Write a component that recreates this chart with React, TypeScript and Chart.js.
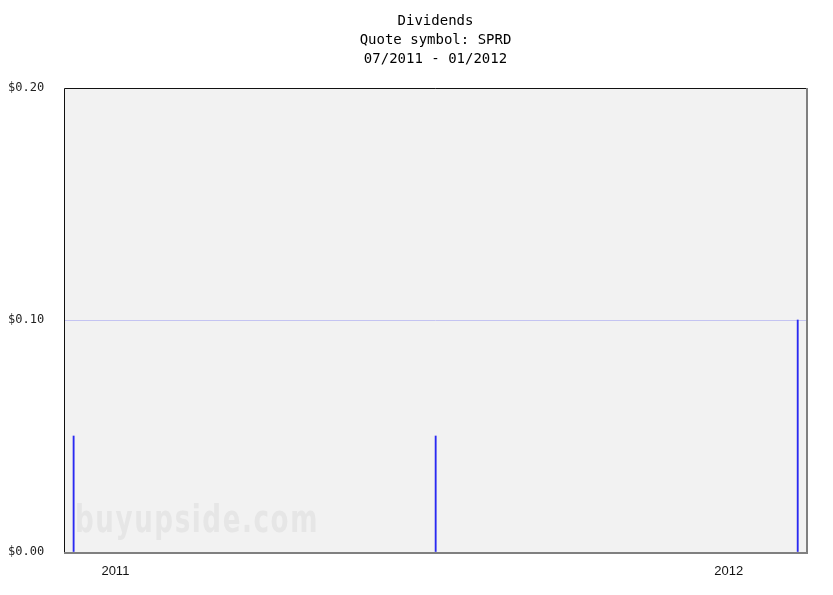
import React, { useEffect, useRef } from "react";
import { Chart, registerables } from "chart.js";

Chart.register(...registerables);

const titleLines = ["Dividends", "Quote symbol: SPRD", "07/2011 - 01/2012"];
const dividendDates = ["2011-07-21", "2011-10-20", "2012-01-19"];
const dividendValues = [0.05, 0.05, 0.1];
const axisStart = "2011-07-18T14:00:00Z";
const axisEnd = "2012-01-21T08:00:00Z";
const yearTickDates = ["2011-07-31T12:00:00Z", "2012-01-01T16:00:00Z"];
const yearTickLabels = ["2011", "2012"];
const yTickValues = [0, 0.1, 0.2];
const watermark = "buyupside.com";

const DAY = 86400000;
const toDay = (s: string) => Date.parse(s.length === 10 ? s + "T00:00:00Z" : s) / DAY;

const framePlugin = {
  id: "frame",
  beforeDraw(chart: Chart) {
    const { ctx, chartArea: a } = chart;
    ctx.save();
    ctx.fillStyle = "#f2f2f2";
    ctx.fillRect(a.left, a.top, a.right - a.left, a.bottom - a.top);
    ctx.restore();
  },
  beforeDatasetsDraw(chart: Chart) {
    const { ctx, chartArea: a } = chart;
    ctx.save();
    ctx.font = "bold 37px 'DejaVu Sans Condensed', 'Liberation Sans', sans-serif";
    (ctx as any).letterSpacing = "2px";
    ctx.fillStyle = "#e6e6e6";
    ctx.textBaseline = "alphabetic";
    // squeeze the watermark so it spans the same width as in the original
    const w = ctx.measureText(watermark).width;
    ctx.translate(a.left + 11, a.bottom - 20);
    ctx.scale(244 / w, 1);
    ctx.fillText(watermark, 0, 0);
    ctx.restore();
  },
  afterDraw(chart: Chart) {
    const { ctx, chartArea: a } = chart;
    ctx.save();
    ctx.strokeStyle = "#111111";
    ctx.lineWidth = 1;
    ctx.beginPath();
    ctx.moveTo(a.left + 0.5, a.bottom);
    ctx.lineTo(a.left + 0.5, a.top + 0.5);
    ctx.lineTo(a.right, a.top + 0.5);
    ctx.stroke();
    ctx.strokeStyle = "#808080";
    ctx.lineWidth = 2;
    ctx.beginPath();
    ctx.moveTo(a.right, a.top);
    ctx.lineTo(a.right, a.bottom + 1);
    ctx.lineTo(a.left, a.bottom + 1);
    ctx.stroke();
    ctx.restore();
  },
};

export default function App() {
  const canvasRef = useRef<HTMLCanvasElement>(null);

  useEffect(() => {
    document.body.style.margin = "0";
    if (!canvasRef.current) return;

    const chart = new Chart(canvasRef.current, {
      type: "bar",
      data: {
        datasets: [
          {
            label: "Dividend",
            data: dividendDates.map((d, i) => ({ x: toDay(d), y: dividendValues[i] })),
            backgroundColor: "#2a2af2",
            borderWidth: 0,
            barThickness: 1.2,
          },
        ],
      },
      options: {
        responsive: false,
        animation: false,
        layout: { padding: { left: 8, right: 26, top: 0, bottom: 0 } },
        scales: {
          x: {
            type: "linear",
            offset: false,
            min: toDay(axisStart),
            max: toDay(axisEnd),
            afterBuildTicks: (scale) => {
              scale.ticks = yearTickDates.map((d) => ({ value: toDay(d) }));
            },
            afterFit: (scale) => {
              scale.height = 43;
            },
            ticks: {
              autoSkip: false,
              maxRotation: 0,
              padding: 4,
              color: "#111111",
              font: { family: "'Liberation Sans', Arial, sans-serif", size: 13 },
              callback: (_v, i) => yearTickLabels[i],
            },
            grid: { display: false, offset: false },
            border: { display: false },
          },
          y: {
            min: 0,
            max: 0.2,
            afterBuildTicks: (scale) => {
              scale.ticks = yTickValues.map((v) => ({ value: v }));
            },
            afterFit: (scale) => {
              scale.width = 56;
            },
            ticks: {
              crossAlign: "far",
              color: "#222222",
              font: { family: "'DejaVu Sans Mono', monospace", size: 12 },
              callback: (v) => "$" + Number(v).toFixed(2),
            },
            grid: {
              drawTicks: false,
              color: (c) => (c.tick && c.tick.value === 0.1 ? "#c4c4f2" : "rgba(0,0,0,0)"),
            },
            border: { display: false },
          },
        },
        plugins: {
          legend: { display: false },
          tooltip: { enabled: false },
          title: {
            display: true,
            fullSize: false,
            text: titleLines,
            color: "#000000",
            font: { family: "'DejaVu Sans Mono', monospace", size: 14, weight: "normal", lineHeight: 19 / 14 },
            padding: { top: 12, bottom: 19 },
          },
        },
      },
      plugins: [framePlugin],
    });

    return () => chart.destroy();
  }, []);

  return (
    <div style={{ width: 833, height: 595, background: "#ffffff" }}>
      <canvas ref={canvasRef} width={833} height={595} />
    </div>
  );
}
